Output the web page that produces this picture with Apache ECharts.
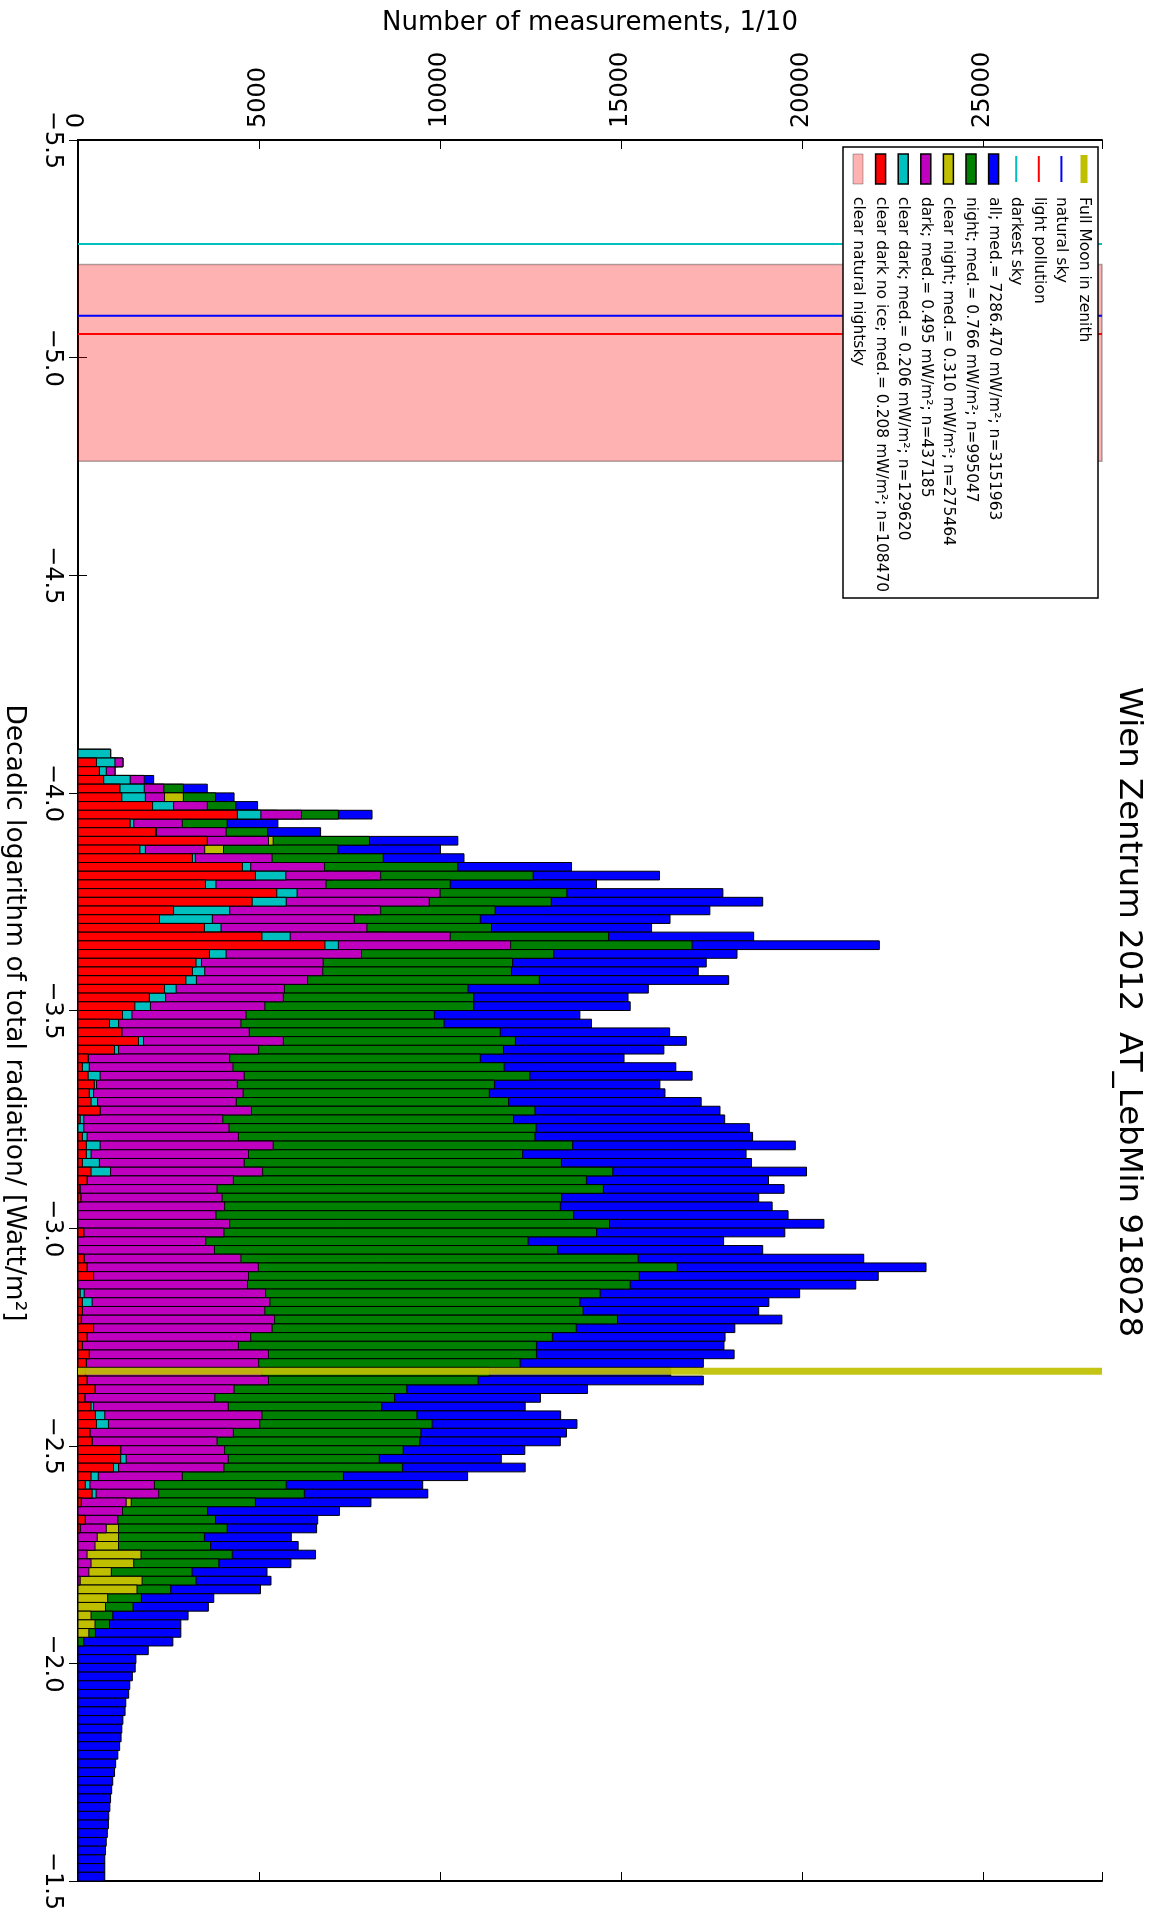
<!DOCTYPE html>
<html>
<head>
<meta charset="utf-8">
<title>Wien Zentrum 2012 AT_LebMin 918028</title>
<script src="https://cdn.jsdelivr.net/npm/echarts@6/dist/echarts.min.js"></script>
<style>
  html, body { margin: 0; padding: 0; background: #fff; }
  #chart { width: 1152px; height: 1916px; }
</style>
</head>
<body>
<div id="chart"></div>
<script>
// Histogram bins: decadic log of total radiation, 0.02 wide, starting at -4.1
const binStart = -4.1;
const binWidth = 0.02;

// Counts per bin (number of measurements / 10), one list per subset
const countAll = [
  900, 1240, 1020, 2090, 3570, 4310, 4960, 8120, 5520, 6700,
  10490, 10010, 10660, 13630, 16060, 14320, 17810, 18910, 17450, 16350,
  15840, 18660, 22130, 18200, 17350, 17130, 17970, 15750, 15190, 15250,
  13860, 14180, 16340, 16800, 16180, 15080, 16510, 16960, 16070, 16210,
  17210, 17730, 17860, 18540, 18630, 19810, 18450, 18600, 20120, 19070,
  19500, 18800, 19170, 19610, 20600, 19520, 17830, 18910, 21700, 23420,
  22100, 21480, 19930, 19080, 18800, 19440, 18140, 17870, 17840, 18120,
  17270, 16370, 17270, 14070, 12770, 12350, 13330, 13780, 13490, 13320,
  12340, 11690, 12350, 10760, 9520, 9660, 8090, 7220, 6620, 6590,
  5890, 6080, 6560, 5880, 5220, 5330, 5040, 3750, 3600, 3040,
  2840, 2840, 2620, 1940, 1600, 1580, 1500, 1430, 1400, 1320,
  1300, 1240, 1210, 1190, 1150, 1100, 1040, 1010, 960, 930,
  900, 880, 850, 840, 810, 780, 760, 740, 740, 740
];
const countNight = [
  900, 1240, 1020, 1800, 2910, 3800, 4360, 7190, 4120, 5240,
  8050, 7180, 8430, 10490, 12570, 10280, 13500, 13070, 11520, 11110,
  11420, 14650, 16960, 13140, 12000, 11970, 12740, 10770, 10930, 10930,
  9840, 10110, 11660, 12080, 11750, 11110, 11770, 12480, 11500, 11360,
  11890, 12620, 12030, 12650, 12620, 13660, 12280, 13350, 14770, 14040,
  14510, 13360, 13320, 13690, 14680, 14320, 12430, 13250, 15470, 16550,
  15500, 15250, 14420, 13860, 13950, 14900, 13760, 13100, 12660, 12660,
  12210, 11360, 11050, 9080, 8740, 8390, 9360, 9780, 9470, 9440,
  8980, 8320, 8960, 7330, 5750, 6250, 4900, 3580, 3800, 4120,
  3490, 3660, 4260, 3890, 3150, 3260, 2560, 1750, 1520, 960,
  870, 480, 160, 0, 0, 0, 0, 0, 0, 0,
  0, 0, 0, 0, 0, 0, 0, 0, 0, 0,
  0, 0, 0, 0, 0, 0, 0, 0, 0, 0
];
const countClearNight = [
  900, 1100, 900, 1600, 2100, 2910, 3000, 5500, 2200, 3000,
  5390, 4020, 4500, 6000, 7000, 5500, 8000, 8000, 7000, 6500,
  6500, 8500, 10000, 6500, 5500, 5500, 5000, 4500, 4000, 3500,
  3000, 2800, 3000, 3500, 3000, 2000, 2000, 2200, 2000, 2000,
  2000, 2200, 1800, 1800, 2000, 2500, 2000, 2000, 2500, 2000,
  1800, 1800, 1800, 1700, 1900, 1800, 1600, 1700, 2000, 2200,
  2100, 2000, 2200, 2300, 2200, 2300, 2300, 2100, 2000, 2300,
  2200, 2200, 2300, 2000, 1800, 1900, 2300, 2300, 2000, 1900,
  2100, 2200, 2000, 1600, 1300, 1500, 1470, 1100, 900, 1120,
  1120, 1120, 1740, 1540, 920, 1770, 1630, 820, 760, 360,
  470, 300, 0, 0, 0, 0, 0, 0, 0, 0,
  0, 0, 0, 0, 0, 0, 0, 0, 0, 0,
  0, 0, 0, 0, 0, 0, 0, 0, 0, 0
];
const countDark = [
  900, 1240, 1020, 1830, 2370, 2390, 3570, 6170, 2880, 4090,
  5260, 3500, 5360, 6810, 8360, 6850, 10000, 9700, 8360, 7630,
  7980, 10280, 11950, 7830, 6770, 6760, 6340, 5700, 5670, 5160,
  4640, 4500, 4730, 5670, 4990, 4190, 4280, 4590, 4400, 4560,
  4370, 4790, 4000, 4170, 4430, 5390, 4710, 4590, 5100, 4290,
  3840, 3980, 4050, 3810, 4190, 4030, 3530, 3770, 4500, 4980,
  4710, 4680, 5180, 5300, 5160, 5430, 5360, 4770, 4430, 5260,
  4990, 5080, 5260, 4310, 3780, 4150, 5080, 5020, 4290, 3840,
  4050, 4150, 4030, 2880, 2110, 2230, 1330, 1230, 1100, 780,
  530, 470, 250, 360, 300, 60, 0, 0, 0, 0,
  0, 0, 0, 0, 0, 0, 0, 0, 0, 0,
  0, 0, 0, 0, 0, 0, 0, 0, 0, 0,
  0, 0, 0, 0, 0, 0, 0, 0, 0, 0
];
const countClearDark = [
  900, 1020, 780, 1440, 1830, 1860, 2640, 5050, 1540, 2170,
  3570, 1860, 3240, 4770, 5740, 3810, 6050, 5750, 4190, 3710,
  3950, 5860, 7190, 4090, 3410, 3500, 3270, 2710, 2420, 2000,
  1490, 1120, 1210, 1810, 1120, 290, 310, 610, 510, 430,
  540, 610, 160, 160, 250, 610, 360, 590, 900, 260,
  60, 80, 0, 0, 0, 160, 0, 0, 170, 250,
  430, 0, 170, 390, 120, 100, 430, 250, 120, 310,
  230, 200, 250, 470, 190, 430, 740, 840, 330, 390,
  1180, 1330, 1120, 560, 330, 500, 90, 0, 200, 60,
  0, 0, 0, 0, 0, 0, 0, 0, 0, 0,
  0, 0, 0, 0, 0, 0, 0, 0, 0, 0,
  0, 0, 0, 0, 0, 0, 0, 0, 0, 0,
  0, 0, 0, 0, 0, 0, 0, 0, 0, 0
];
const countClearDarkNoIce = [
  0, 510, 590, 710, 1160, 1210, 2060, 4400, 1440, 2140,
  3570, 1710, 3160, 4540, 4900, 3520, 5490, 4810, 2640, 2250,
  3490, 5080, 6820, 3630, 3260, 3160, 2980, 2390, 1970, 1570,
  1230, 870, 1210, 1670, 1010, 280, 120, 280, 450, 310,
  360, 610, 60, 0, 120, 230, 230, 120, 360, 250,
  50, 80, 0, 0, 0, 160, 0, 0, 170, 250,
  430, 0, 60, 120, 120, 90, 430, 250, 120, 310,
  230, 200, 250, 470, 190, 360, 480, 510, 330, 390,
  1180, 1180, 980, 360, 200, 390, 90, 0, 200, 60,
  0, 0, 0, 0, 0, 0, 0, 0, 0, 0,
  0, 0, 0, 0, 0, 0, 0, 0, 0, 0,
  0, 0, 0, 0, 0, 0, 0, 0, 0, 0,
  0, 0, 0, 0, 0, 0, 0, 0, 0, 0
];

// Reference levels (log10 W/m²)
const levelDarkestSky = -5.261;
const levelNaturalSky = -5.096;
const levelLightPollution = -5.054;
const levelFullMoon = -2.671;
const bandClearNatural = [-5.214, -4.762];

// Axis ranges and ticks
const countMax = 28280;
const countTickStep = 5000;
const logMin = -5.5, logMax = -1.5, logTickStep = 0.5;

// Legend entries
const legendLabels = [
  'Full Moon in zenith',
  'natural sky',
  'light pollution',
  'darkest sky',
  'all; med.= 7286.470 mW/m²; n=3151963',
  'night; med.= 0.766 mW/m²; n=995047',
  'clear night; med.= 0.310 mW/m²; n=275464',
  'dark; med.= 0.495 mW/m²; n=437185',
  'clear dark; med.= 0.206 mW/m²; n=129620',
  'clear dark no ice; med.= 0.208 mW/m²; n=108470',
  'clear natural nightsky'
];
const legendKinds = ['thick', 'line', 'line', 'line', 'patch', 'patch', 'patch', 'patch', 'patch', 'patch', 'band'];

const C = {
  blue: 'rgb(0,0,255)',
  green: 'rgb(0,128,0)',
  yellow: 'rgb(191,191,0)',
  magenta: 'rgb(191,0,191)',
  cyan: 'rgb(0,191,191)',
  red: 'rgb(255,0,0)',
  band: 'rgba(255,0,0,0.3)',
  bandEdge: 'rgba(0,0,0,0.3)'
};
const legendColors = [C.yellow, C.blue, C.red, C.cyan, C.blue, C.green, C.yellow, C.magenta, C.cyan, C.red, C.band];

const FONT = '"DejaVu Sans", "Noto Sans", sans-serif';

function binData(counts) {
  return counts.map((v, i) => [
    +(binStart + i * binWidth).toFixed(3),
    +(binStart + (i + 1) * binWidth).toFixed(3),
    v
  ]);
}

function barSeries(name, counts, color) {
  return {
    name: name,
    type: 'custom',
    z: 3,
    xAxisIndex: 0,
    yAxisIndex: 0,
    encode: { x: 2, y: [0, 1] },
    data: binData(counts),
    renderItem: function (params, api) {
      const v = api.value(2);
      if (!v) return null;
      const a = api.coord([0, api.value(0)]);
      const b = api.coord([v, api.value(1)]);
      return {
        type: 'rect',
        shape: {
          x: a[0],
          y: Math.min(a[1], b[1]),
          width: b[0] - a[0],
          height: Math.abs(b[1] - a[1])
        },
        style: { fill: color, stroke: '#000', lineWidth: 1 }
      };
    }
  };
}

function levelSeries(name, levels, color, width, z) {
  return {
    name: name,
    type: 'custom',
    z: z,
    xAxisIndex: 0,
    yAxisIndex: 0,
    encode: { y: 0 },
    data: levels.map(v => [v]),
    renderItem: function (params, api) {
      const cs = params.coordSys;
      const p = api.coord([0, api.value(0)]);
      return {
        type: 'line',
        shape: { x1: cs.x, y1: p[1], x2: cs.x + cs.width, y2: p[1] },
        style: { stroke: color, lineWidth: width }
      };
    }
  };
}

const bandSeries = {
  name: 'clear natural nightsky',
  type: 'custom',
  z: 1,
  encode: { y: [0, 1] },
  data: [bandClearNatural],
  renderItem: function (params, api) {
    const cs = params.coordSys;
    const p0 = api.coord([0, api.value(0)]);
    const p1 = api.coord([0, api.value(1)]);
    return {
      type: 'rect',
      shape: { x: cs.x, y: Math.min(p0[1], p1[1]), width: cs.width, height: Math.abs(p1[1] - p0[1]) },
      style: { fill: C.band, stroke: C.bandEdge, lineWidth: 1.5 }
    };
  }
};

// Legend drawn as a rotated column list in the upper right corner of the plot
const legendElems = [];
legendElems.push({
  type: 'rect', z: 100,
  shape: { x: 843, y: 147, width: 255, height: 451 },
  style: { fill: '#fff', stroke: '#000', lineWidth: 1.5 }
});
const legendX0 = 1084, legendStep = 22.6;
legendLabels.forEach((label, i) => {
  const cx = legendX0 - i * legendStep;
  const kind = legendKinds[i];
  if (kind === 'thick') {
    legendElems.push({ type: 'line', z: 101, shape: { x1: cx, y1: 155, x2: cx, y2: 183 }, style: { stroke: legendColors[i], lineWidth: 7 } });
  } else if (kind === 'line') {
    legendElems.push({ type: 'line', z: 101, shape: { x1: cx, y1: 156, x2: cx, y2: 182 }, style: { stroke: legendColors[i], lineWidth: 2 } });
  } else {
    legendElems.push({
      type: 'rect', z: 101,
      shape: { x: cx - 5, y: 154, width: 10, height: 30 },
      style: { fill: legendColors[i], stroke: kind === 'band' ? C.bandEdge : '#000', lineWidth: kind === 'band' ? 1 : 1.5 }
    });
  }
  legendElems.push({
    type: 'text', z: 101,
    x: cx, y: 197, rotation: -Math.PI / 2,
    style: { text: label, font: '15.5px ' + FONT, fill: '#000', align: 'left', verticalAlign: 'middle' }
  });
});

const chart = echarts.init(document.getElementById('chart'), null, { renderer: 'canvas' });

const tickStyle = { show: true, inside: true, length: 9, lineStyle: { color: '#000', width: 1 } };
const lineStyle = { show: true, lineStyle: { color: '#000', width: 2 } };
const logLabel = v => (v < 0 ? '\u2212' : '') + Math.abs(v).toFixed(1);

chart.setOption({
  animation: false,
  backgroundColor: '#fff',
  grid: { left: 78, top: 140, width: 1024, height: 1741, containLabel: false },
  xAxis: [
    {
      type: 'value', position: 'top', min: 0, max: countMax, interval: countTickStep,
      axisLine: lineStyle, axisTick: tickStyle, splitLine: { show: false },
      axisLabel: {
        rotate: -90, margin: 12, fontSize: 24, fontFamily: FONT, color: '#000',
        formatter: v => (v % countTickStep === 0 ? String(v) : '')
      }
    },
    {
      type: 'value', position: 'bottom', min: 0, max: countMax, interval: countTickStep,
      axisLine: lineStyle, axisTick: tickStyle, splitLine: { show: false },
      axisLabel: { show: false }
    }
  ],
  yAxis: [
    {
      type: 'value', position: 'left', inverse: true, min: logMin, max: logMax, interval: logTickStep,
      axisLine: lineStyle, axisTick: tickStyle, splitLine: { show: false },
      axisLabel: { rotate: -90, margin: 14, fontSize: 24, fontFamily: FONT, color: '#000', formatter: logLabel }
    },
    {
      type: 'value', position: 'right', inverse: true, min: logMin, max: logMax, interval: logTickStep,
      axisLine: lineStyle, axisTick: tickStyle, splitLine: { show: false },
      axisLabel: { show: false }
    }
  ],
  graphic: [
    {
      type: 'text', x: 590, y: 23,
      style: { text: 'Number of measurements, 1/10', font: '26px ' + FONT, fill: '#000', align: 'center', verticalAlign: 'middle' }
    },
    {
      type: 'text', x: 14, y: 1013, rotation: -Math.PI / 2,
      style: { text: 'Decadic logarithm of total radiation/ [Watt/m²]', font: '26.5px ' + FONT, fill: '#000', align: 'center', verticalAlign: 'middle' }
    },
    {
      type: 'text', x: 1128, y: 1012, rotation: -Math.PI / 2,
      style: { text: 'Wien Zentrum 2012  AT_LebMin 918028', font: '32.4px ' + FONT, fill: '#000', align: 'center', verticalAlign: 'middle' }
    }
  ].concat(legendElems),
  series: [
    bandSeries,
    levelSeries('darkest sky', [levelDarkestSky], C.cyan, 2, 2),
    levelSeries('natural sky', [levelNaturalSky], C.blue, 2, 2),
    levelSeries('light pollution', [levelLightPollution], C.red, 2, 2),
    barSeries('all', countAll, C.blue),
    barSeries('night', countNight, C.green),
    barSeries('clear night', countClearNight, C.yellow),
    barSeries('dark', countDark, C.magenta),
    barSeries('clear dark', countClearDark, C.cyan),
    barSeries('clear dark no ice', countClearDarkNoIce, C.red),
    levelSeries('Full Moon in zenith', [levelFullMoon], 'rgba(191,191,0,0.92)', 7, 4)
  ]
});
</script>
</body>
</html>
